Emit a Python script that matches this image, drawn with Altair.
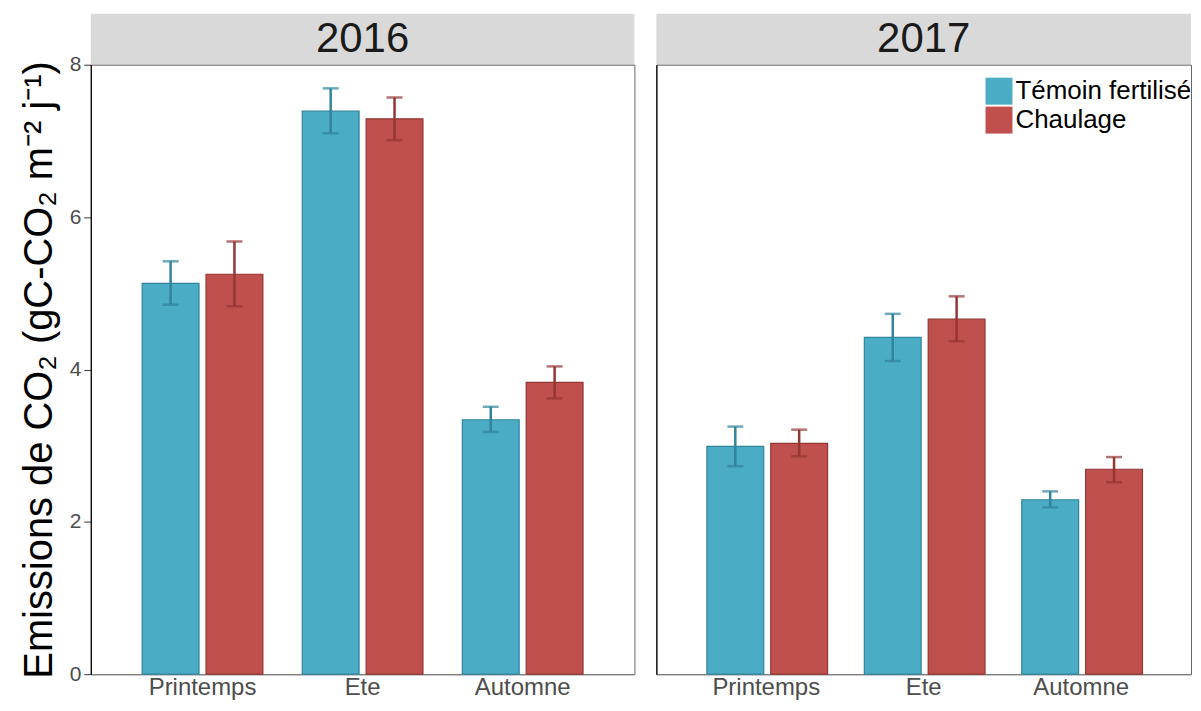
import altair as alt
import pandas as pd

seasons = ["Printemps", "Ete", "Automne"]
treatments = ["Témoin fertilisé", "Chaulage"]
years = ["2016", "2017"]

mean_2016_temoin = [5.13, 7.39, 3.34]
low_2016_temoin = [4.85, 7.10, 3.18]
high_2016_temoin = [5.42, 7.69, 3.51]
mean_2016_chaul = [5.25, 7.29, 3.83]
low_2016_chaul = [4.83, 7.01, 3.62]
high_2016_chaul = [5.68, 7.57, 4.04]

mean_2017_temoin = [2.99, 4.42, 2.29]
low_2017_temoin = [2.73, 4.11, 2.19]
high_2017_temoin = [3.25, 4.73, 2.40]
mean_2017_chaul = [3.03, 4.66, 2.69]
low_2017_chaul = [2.86, 4.37, 2.52]
high_2017_chaul = [3.21, 4.96, 2.85]

y_ticks = [0, 2, 4, 6, 8]

fill_colors = ["#4bacc6", "#c0504d"]
dark_colors = ["#31849b", "#943634"]
FONT = "Liberation Sans"

rows = []
series = {
    ("2016", treatments[0]): (mean_2016_temoin, low_2016_temoin, high_2016_temoin),
    ("2016", treatments[1]): (mean_2016_chaul, low_2016_chaul, high_2016_chaul),
    ("2017", treatments[0]): (mean_2017_temoin, low_2017_temoin, high_2017_temoin),
    ("2017", treatments[1]): (mean_2017_chaul, low_2017_chaul, high_2017_chaul),
}
for (yr, tr), (m, lo, hi) in series.items():
    for s, mv, lv, hv in zip(seasons, m, lo, hi):
        rows.append({"year": yr, "treat": tr, "season": s, "mean": mv, "lo": lv, "hi": hv})
df = pd.DataFrame(rows)

PLOT_H = 611
STRIP_H = 51


def panel(year, width, first):
    d = df[df["year"] == year]
    if first:
        yaxis = alt.Axis(values=y_ticks, format="d", grid=False, title="Emissions de CO₂ (gC-CO₂ m⁻² j⁻¹)",
                         titleFontSize=40, titleFont=FONT, titleFontWeight="normal", titleColor="#000000",
                         titlePadding=10, labelFontSize=21, labelFont=FONT, labelColor="#4d4d4d",
                         tickColor="#333333", tickSize=7, tickWidth=1, labelPadding=3,
                         domainColor="#000000", domainWidth=1.2)
    else:
        yaxis = alt.Axis(values=y_ticks, grid=False, title=None, labels=False, ticks=False,
                         domainColor="#000000", domainWidth=1.2)
    xaxis = alt.Axis(title=None, ticks=False, labelAngle=0, labelFontSize=24, labelFont=FONT,
                     labelColor="#4d4d4d", labelPadding=1, domainColor="#7f7f7f", domainWidth=1.2)
    x = alt.X("season:N", sort=seasons, axis=xaxis,
              scale=alt.Scale(paddingInner=0.246, paddingOuter=0.321))
    xo = alt.XOffset("treat:N", sort=treatments, scale=alt.Scale(paddingInner=0.11, paddingOuter=0))
    yscale = alt.Scale(domain=[0, 8], nice=False)

    if first:
        legend = None
    else:
        legend = alt.Legend(title=None, orient="none", legendX=330, legendY=13, symbolType="square",
                            symbolSize=729, labelFontSize=26, labelFont=FONT, labelColor="#000000",
                            labelOffset=3, rowPadding=2, padding=0, symbolStrokeWidth=0,
                            labelLimit=400)

    base = alt.Chart(d).encode(x=x, xOffset=xo)
    bars = base.mark_bar(strokeWidth=1.2).encode(
        y=alt.Y("mean:Q", scale=yscale, axis=yaxis),
        color=alt.Color("treat:N", sort=treatments,
                        scale=alt.Scale(domain=treatments, range=fill_colors), legend=legend),
        stroke=alt.Stroke("treat:N", scale=alt.Scale(domain=treatments, range=dark_colors), legend=None),
    )
    rules = base.mark_rule(strokeWidth=2.5).encode(
        y=alt.Y("lo:Q", scale=yscale), y2="hi:Q",
        stroke=alt.Stroke("treat:N", scale=alt.Scale(domain=treatments, range=dark_colors), legend=None),
    )
    caps_hi = base.mark_tick(size=16, thickness=2.5).encode(
        y=alt.Y("hi:Q", scale=yscale),
        fill=alt.Fill("treat:N", scale=alt.Scale(domain=treatments, range=dark_colors), legend=None),
    )
    caps_lo = base.mark_tick(size=16, thickness=2.5).encode(
        y=alt.Y("lo:Q", scale=yscale),
        fill=alt.Fill("treat:N", scale=alt.Scale(domain=treatments, range=dark_colors), legend=None),
    )
    plot = alt.layer(bars, rules, caps_hi, caps_lo).properties(
        width=width, height=PLOT_H, view=alt.ViewBackground(stroke="#666666", strokeWidth=1)
    )

    sd = pd.DataFrame({"year": [year]})
    sx = alt.X("year:N", axis=None, scale=alt.Scale(paddingInner=0, paddingOuter=0))
    strip_rect = alt.Chart(sd).mark_rect(fill="#d9d9d9").encode(x=sx)
    strip_text = alt.Chart(sd).mark_text(fontSize=42, font=FONT, color="#1a1a1a", baseline="middle").encode(
        x=sx, text="year:N")
    strip = alt.layer(strip_rect, strip_text).properties(
        width=width, height=STRIP_H, view=alt.ViewBackground(stroke=None)
    )
    return alt.vconcat(strip, plot, spacing=0, bounds="flush").resolve_scale(
        color="independent", stroke="independent", fill="independent", x="independent")


chart = alt.hconcat(panel("2016", 545, True), panel("2017", 536, False), spacing=20).resolve_scale(
    color="independent", stroke="independent", fill="independent", x="independent", y="independent"
).properties(
    padding={"left": 10, "top": 5, "right": 0, "bottom": 0}, background="#ffffff"
)

chart.save("out.html", embed_options={"renderer": "svg", "actions": False})
